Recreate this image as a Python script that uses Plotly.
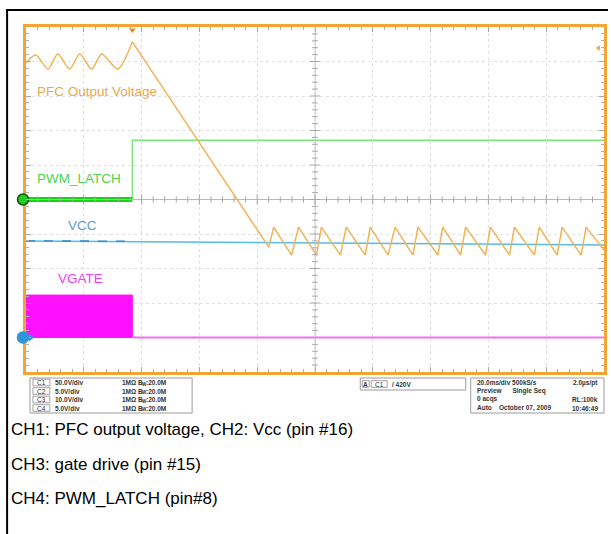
import plotly.graph_objects as go

# ---- data: time in ms (20 ms/div), amplitude in screen divisions (0 = bottom, 10 = top)
pfc_ripple_t = [0.0, 3.4, 7.6, 11.0, 15.1, 18.6, 22.7, 26.2, 31.7, 36.8]
pfc_ripple_v = [8.96, 9.19, 8.78, 9.22, 8.78, 9.22, 8.78, 9.22, 8.78, 9.57]
pfc_tail_t = [36.8, 84.0, 85.7, 91.9, 94.3, 100.5, 102.2, 108.8, 110.8, 117.4, 119.1,
              125.3, 127.7, 133.9, 135.6, 142.5, 144.2, 150.4, 152.1, 159.0, 160.7,
              167.3, 169.0, 175.9, 177.6, 183.8, 185.5, 192.1, 193.8, 200.0]
pfc_tail_v = [9.57, 3.62, 4.20, 3.39, 4.20, 3.39, 4.20, 3.39, 4.20, 3.39, 4.20,
              3.39, 4.20, 3.39, 4.20, 3.39, 4.20, 3.39, 4.20, 3.39, 4.20,
              3.39, 4.20, 3.39, 4.20, 3.39, 4.20, 3.39, 4.20, 3.54]
pwm_low_t = [0.0, 36.8]
pwm_low_v = [5.0, 5.0]
pwm_high_t = [36.8, 36.8, 200.0]
pwm_high_v = [5.0, 6.72, 6.72]
vcc_t = [0.0, 200.0]
vcc_v = [3.80, 3.68]
vgate_on_t = [0.0, 0.0, 36.8, 36.8, 0.0]
vgate_on_v = [1.0, 2.23, 2.23, 1.0, 1.0]
vgate_off_t = [36.8, 200.0]
vgate_off_v = [1.0, 1.0]

labels = ["PFC Output Voltage", "PWM_LATCH", "VCC", "VGATE"]
label_t = [24.6, 18.4, 19.4, 18.8]
label_v = [8.14, 5.61, 4.26, 2.72]
label_col = ["#E9A84C", "#4CD24C", "#5B9BD0", "#F040F0"]

ch_rows = [("C1", "50.0V/div"), ("C2", "5.0V/div"), ("C3", "10.0V/div"), ("C4", "5.0V/div")]
acq_rows = [("20.0ms/div 500kS/s", "2.0µs/pt"), ("Preview      Single Seq", ""),
            ("0 acqs", "RL:100k"), ("Auto    October 07, 2009", "10:46:49")]
captions = ["CH1: PFC output voltage, CH2: Vcc (pin #16)",
            "CH3: gate drive (pin #15)",
            "CH4: PWM_LATCH (pin#8)"]

# ---- layout geometry (pixels)
W, H = 611, 534
L, R, T, B = 26, 607, 27, 372


def px(x):
    return (x - L) / (R - L)


def py(y):
    return (B - y) / (B - T)


fig = go.Figure()

fig.add_trace(go.Scatter(x=vgate_on_t, y=vgate_on_v, mode="lines", fill="toself",
                         fillcolor="#FF10FF", line=dict(color="#FF10FF", width=1)))
fig.add_trace(go.Scatter(x=vgate_off_t, y=vgate_off_v, mode="lines",
                         line=dict(color="#F070F0", width=2)))
fig.add_trace(go.Scatter(x=vcc_t, y=vcc_v, mode="lines",
                         line=dict(color="#55BBE8", width=1.5)))
fig.add_trace(go.Scatter(x=[vcc_t[0], 36.8], y=[vcc_v[0], vcc_v[0] - 0.01], mode="lines",
                         line=dict(color="#3A88C4", width=1.5, dash="dash")))
fig.add_trace(go.Scatter(x=pwm_high_t, y=pwm_high_v, mode="lines",
                         line=dict(color="#78E878", width=1.5)))
fig.add_trace(go.Scatter(x=pwm_low_t, y=pwm_low_v, mode="lines",
                         line=dict(color="#14D414", width=5)))
fig.add_trace(go.Scatter(x=pfc_ripple_t, y=pfc_ripple_v, mode="lines",
                         line=dict(color="#F0B458", width=1.5, shape="spline", smoothing=0.8)))
fig.add_trace(go.Scatter(x=pfc_tail_t, y=pfc_tail_v, mode="lines",
                         line=dict(color="#F0B458", width=1.5)))

# trigger markers
fig.add_trace(go.Scatter(x=[1.6], y=[vgate_off_v[0]], mode="markers", cliponaxis=False,
                         marker=dict(size=7, symbol="triangle-right", color="#2F95D8")))
fig.add_trace(go.Scatter(x=[pfc_ripple_t[-1]], y=[9.91], mode="markers", cliponaxis=False,
                         marker=dict(size=6, symbol="triangle-down", color="#F08A10")))
fig.add_trace(go.Scatter(x=[198.1], y=[9.39], mode="markers", cliponaxis=False,
                         marker=dict(size=5, symbol="triangle-left", color="#F0A030")))

shapes = []
# channel ground markers (circles just left of the screen)
for lev, fc, lc in [(pwm_low_v[0], "#22CC22", "#0A5A0A"), (vgate_off_v[0], "#2F95D8", "#2F95D8")]:
    shapes.append(dict(type="circle", xref="paper", yref="paper", xsizemode="pixel",
                       ysizemode="pixel", xanchor=px(23), yanchor=lev / 10.0,
                       x0=-5.5, x1=5.5, y0=-5.5, y1=5.5, fillcolor=fc,
                       line=dict(color=lc, width=1.5), layer="above"))

# center cross lines with tick marks
shapes.append(dict(type="line", xref="x", yref="y", x0=100, x1=100, y0=0, y1=10,
                   line=dict(color="#C4C4C4", width=1)))
shapes.append(dict(type="line", xref="x", yref="y", x0=0, x1=200, y0=5, y1=5,
                   line=dict(color="#B8B8B8", width=1)))
for i in range(1, 50):
    t = i * 4
    h = 0.09 if i % 5 else 0.15
    shapes.append(dict(type="line", xref="x", yref="y", x0=t, x1=t, y0=5 - h, y1=5 + h,
                       line=dict(color="#A8A8A8", width=1)))
for i in range(1, 50):
    v = i * 0.2
    w = 1.0 if i % 5 else 1.7
    shapes.append(dict(type="line", xref="x", yref="y", x0=100 - w, x1=100 + w, y0=v, y1=v,
                       line=dict(color="#A8A8A8", width=1)))

# page border (top and left)
shapes.append(dict(type="line", xref="paper", yref="paper", x0=px(6), x1=px(611), y0=py(10), y1=py(10),
                   line=dict(color="black", width=2)))
shapes.append(dict(type="line", xref="paper", yref="paper", x0=px(7), x1=px(7), y0=py(9), y1=py(534),
                   line=dict(color="black", width=2)))

# info boxes
for (x0, y0, x1, y1) in [(30, 378, 193, 413), (362, 378, 468, 390), (473, 378, 607, 413)]:
    shapes.append(dict(type="rect", xref="paper", yref="paper", x0=px(x0), x1=px(x1),
                       y0=py(y0), y1=py(y1), line=dict(color="#9A9A9A", width=1)))
# channel / source tags inside the boxes
row_y = [382.5, 391, 399.5, 408]
for yy in row_y:
    shapes.append(dict(type="rect", xref="paper", yref="paper", x0=px(33), x1=px(50),
                       y0=py(yy - 3.3), y1=py(yy + 3.3), line=dict(color="#8A8A8A", width=0.8)))
shapes.append(dict(type="rect", xref="paper", yref="paper", x0=px(364), x1=px(371),
                   y0=py(384 - 3.3), y1=py(384 + 3.3), line=dict(color="#8A8A8A", width=0.8)))
shapes.append(dict(type="rect", xref="paper", yref="paper", x0=px(373), x1=px(389),
                   y0=py(384 - 3.3), y1=py(384 + 3.3), line=dict(color="#8A8A8A", width=0.8)))

ann = []
for s, t, v, c in zip(labels, label_t, label_v, label_col):
    ann.append(dict(x=t, y=v, xref="x", yref="y", text=s, showarrow=False,
                    font=dict(family="Liberation Sans, Arial", size=13.5, color=c)))

small = dict(family="Liberation Sans, Arial", size=6.5, color="#333333")
tiny = dict(family="Liberation Sans, Arial", size=4.5, color="#333333")
for (ch, vd), yy in zip(ch_rows, row_y):
    ann.append(dict(x=px(41.5), y=py(yy), xref="paper", yref="paper", text=ch, showarrow=False,
                    font=small, xanchor="center", yanchor="middle"))
    ann.append(dict(x=px(53), y=py(yy), xref="paper", yref="paper", text="<b>%s</b>" % vd,
                    showarrow=False, font=small, xanchor="left", yanchor="middle"))
    ann.append(dict(x=px(120), y=py(yy), xref="paper", yref="paper",
                    text="<b>1MΩ B</b>", showarrow=False, font=small,
                    xanchor="left", yanchor="middle"))
    ann.append(dict(x=px(140.5), y=py(yy + 1.5), xref="paper", yref="paper",
                    text="<b>W</b>", showarrow=False, font=tiny,
                    xanchor="left", yanchor="middle"))
    ann.append(dict(x=px(145), y=py(yy), xref="paper", yref="paper",
                    text="<b>:20.0M</b>", showarrow=False, font=small,
                    xanchor="left", yanchor="middle"))

ann.append(dict(x=px(367.5), y=py(384), xref="paper", yref="paper", text="<b>A</b>", showarrow=False,
                font=small, xanchor="center", yanchor="middle"))
ann.append(dict(x=px(381), y=py(384), xref="paper", yref="paper", text="C1", showarrow=False,
                font=small, xanchor="center", yanchor="middle"))
ann.append(dict(x=px(392), y=py(384), xref="paper", yref="paper", text="<b>/ 420V</b>",
                showarrow=False, font=small, xanchor="left", yanchor="middle"))

for (lt, rt), yy in zip(acq_rows, row_y):
    ann.append(dict(x=px(477), y=py(yy), xref="paper", yref="paper", text="<b>%s</b>" % lt,
                    showarrow=False, font=small, xanchor="left", yanchor="middle"))
    if rt:
        ann.append(dict(x=px(603), y=py(yy), xref="paper", yref="paper", text="<b>%s</b>" % rt,
                        showarrow=False, font=small, xanchor="right", yanchor="middle"))

for s, yy in zip(captions, [429, 464, 498]):
    ann.append(dict(x=px(9), y=py(yy), xref="paper", yref="paper", text=s, showarrow=False,
                    xanchor="left", yanchor="middle",
                    font=dict(family="Liberation Sans, Arial", size=17, color="black")))

axis_common = dict(showticklabels=False, zeroline=False, showgrid=True,
                   gridcolor="#E0E0E0", griddash="dot", gridwidth=1,
                   showline=True, linecolor="#F2A533", linewidth=3, mirror="allticks",
                   ticks="inside", ticklen=5, tickcolor="#A8A8A8", tickwidth=1)

fig.update_layout(
    width=W, height=H,
    margin=dict(l=L, r=W - R, t=T, b=H - B),
    paper_bgcolor="white", plot_bgcolor="white",
    showlegend=False,
    xaxis=dict(range=[0, 200], dtick=20, tick0=0,
               minor=dict(dtick=4, ticks="inside", ticklen=3, tickcolor="#B0B0B0", showgrid=False),
               **axis_common),
    yaxis=dict(range=[0, 10], dtick=1, tick0=0,
               minor=dict(dtick=0.2, ticks="inside", ticklen=3, tickcolor="#B0B0B0", showgrid=False),
               **axis_common),
    shapes=shapes,
    annotations=ann,
)

fig.write_html("out.html")
